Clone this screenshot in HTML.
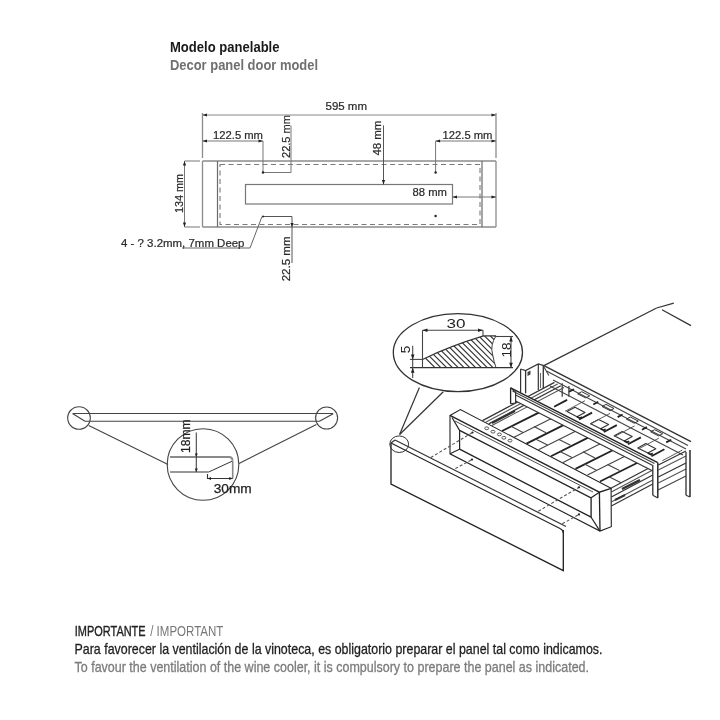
<!DOCTYPE html>
<html><head><meta charset="utf-8">
<style>
html,body{margin:0;padding:0;background:#fff;width:720px;height:720px;overflow:hidden}
svg{display:block;will-change:transform}
text{font-family:"Liberation Sans",sans-serif}
</style></head><body>
<svg width="720" height="720" viewBox="0 0 720 720">
<rect x="0" y="0" width="720" height="720" fill="#fff"/>

<!-- Title -->
<text x="170" y="52.2" font-size="15.5" font-weight="bold" fill="#1a1a1a" textLength="109.5" lengthAdjust="spacingAndGlyphs">Modelo panelable</text>
<text x="170" y="70.3" font-size="15.5" font-weight="bold" fill="#707070" textLength="148" lengthAdjust="spacingAndGlyphs">Decor panel door model</text>

<!-- TOP DRAWING -->
<g id="top" fill="none" stroke="#666" stroke-width="1">
  <!-- outer panel -->
  <path d="M202.5 161 H496 M202.5 227 H496 M202.5 113 V158 M202.5 161 V227 M496 113 V158 M496 161 V227" stroke="#8c8c8c" stroke-width="1.3"/>
  <path d="M217.5 161 V227 M482 161 V227" stroke="#6a6a6a" stroke-width="1.2"/>
  <!-- 134 ext lines -->
  <path d="M184.5 161 H200 M184.5 227 H200 M184.5 161 V227" stroke="#777"/>
  <!-- dashed -->
  <rect x="220" y="164.5" width="260" height="60" stroke="#7a7a7a" stroke-width="1.1" stroke-dasharray="5 3.5"/>
  <!-- slot -->
  <rect x="245.5" y="184.5" width="207" height="19.5" stroke="#777" stroke-width="1.2"/>
  <!-- 595 dim -->
  <path d="M202.5 115 H496" stroke="#888"/>
  <!-- left 122.5 -->
  <path d="M202.5 141 H263 V172.5 H291 V125.5" stroke="#777"/>
  <!-- 48 -->
  <path d="M383.5 125.5 V184.5" stroke="#555"/>
  <!-- right 122.5 -->
  <path d="M435.6 172.5 V141 H496" stroke="#777"/>
  <!-- 88 -->
  <path d="M452.5 197 H496" stroke="#777"/>
  <!-- lower 22.5 -->
  <path d="M263 216.5 H292 V263" stroke="#555"/>
  <!-- leader -->
  <path d="M262 216.5 L250 248 H182" stroke="#666"/>
</g>
<g fill="#222">
  <path d="M202.5 115 l4.5 -1.6 v3.2z M496 115 l-4.5 -1.6 v3.2z"/>
  <path d="M202.5 141 l4.5 -1.6 v3.2z M263 141 l-4.5 -1.6 v3.2z"/>
  <path d="M435.6 141 l4.5 -1.6 v3.2z M496 141 l-4.5 -1.6 v3.2z"/>
  <path d="M452.5 197 l4.5 -1.6 v3.2z M496 197 l-4.5 -1.6 v3.2z"/>
  <path d="M184.5 161 l-1.6 4.5 h3.2z M184.5 227 l-1.6 -4.5 h3.2z"/>
  <path d="M383.5 184.5 l-1.6 -4.5 h3.2z"/>
  <path d="M292 227 l-1.6 -4 h3.2z"/>
  <circle cx="263" cy="172.5" r="1.2"/>
  <circle cx="435.6" cy="172.5" r="1.2"/>
  <circle cx="435.6" cy="216" r="1.2"/>
  <circle cx="263" cy="216.5" r="1"/>
</g>
<g fill="#2a2a2a" stroke="#2a2a2a" stroke-width="0.2" font-size="10.7">
  <text x="325.5" y="109.5" textLength="41.5" lengthAdjust="spacingAndGlyphs">595 mm</text>
  <text x="213" y="138.8" textLength="50" lengthAdjust="spacingAndGlyphs">122.5 mm</text>
  <text x="442.5" y="138.8" textLength="50" lengthAdjust="spacingAndGlyphs">122.5 mm</text>
  <text x="412.5" y="195.6" textLength="34.5" lengthAdjust="spacingAndGlyphs">88 mm</text>
  <text x="121" y="246.5" textLength="123.5" lengthAdjust="spacingAndGlyphs">4 - ? 3.2mm, 7mm Deep</text>
  <text transform="translate(289.7 158) rotate(-90)" textLength="43" lengthAdjust="spacingAndGlyphs">22.5 mm</text>
  <text transform="translate(381 155.6) rotate(-90)" textLength="35" lengthAdjust="spacingAndGlyphs">48 mm</text>
  <text transform="translate(183 213) rotate(-90)" textLength="39" lengthAdjust="spacingAndGlyphs">134 mm</text>
  <text transform="translate(289.7 281.3) rotate(-90)" textLength="44.8" lengthAdjust="spacingAndGlyphs">22.5 mm</text>
</g>

<!-- LEFT PROFILE DRAWING -->
<g fill="none" stroke="#444" stroke-width="1.1">
  <circle cx="79" cy="418" r="11.3"/>
  <circle cx="326.6" cy="418" r="11"/>
  <path d="M72.5 413.5 H333.2 M85 421.2 H319.4 M72.5 413.5 L85 421.2 M333.2 413.7 L319.4 421.3"/>
  <path d="M88.7 425.6 L168 464.5 M316.4 424.4 L239 463.5"/>
  <circle cx="203" cy="464.5" r="35.8"/>
  <path d="M170 457 H229 Q232.5 457 232.5 460.5" stroke="#8a8a8a" stroke-width="2"/>
  <path d="M232.5 461 L208.7 472 H170" stroke="#333" stroke-width="1"/>
  <path d="M232.7 461 V478.5" stroke="#888" stroke-width="1.6"/>
  <path d="M232.7 478.5 H207.5 V474" stroke="#333"/>
  <path d="M196.3 432.5 V472"/>
</g>
<g fill="#222">
  <path d="M196.3 457 l-1.5 -3.5 h3z M196.3 472 l-1.5 -3.5 h3z"/>
  <path d="M207.5 478.5 l3.5 -1.5 v3z M232.7 478.5 l-3.5 -1.5 v3z"/>
</g>
<g fill="#222" stroke="#222" stroke-width="0.25" font-size="13">
  <text transform="translate(190 453) rotate(-90)" textLength="33.6" lengthAdjust="spacingAndGlyphs">18mm</text>
  <text x="213.7" y="492.5" textLength="38" lengthAdjust="spacingAndGlyphs">30mm</text>
</g>

<!-- 3D DRAWING -->
<g id="iso">
<ellipse cx="457.9" cy="352.6" rx="64.6" ry="39" stroke="#333" stroke-width="1.3" fill="none"/>
<defs><clipPath id="hc"><path d="M422.5 359.4 Q450 346 483.5 335.9 L496 335.9 Q490 345 492.5 354 Q494 362 496 367.7 L422.5 367.7Z"/></clipPath></defs>
<path d="M400.4 333 L436.4 369 M406.2 333 L442.2 369 M412.0 333 L448.0 369 M417.8 333 L453.8 369 M423.6 333 L459.6 369 M429.4 333 L465.4 369 M435.2 333 L471.2 369 M441.0 333 L477.0 369 M446.8 333 L482.8 369 M452.6 333 L488.6 369 M458.4 333 L494.4 369 M464.2 333 L500.2 369 M470.0 333 L506.0 369 M475.8 333 L511.8 369 M481.6 333 L517.6 369 M487.4 333 L523.4 369 M493.2 333 L529.2 369 M499.0 333 L535.0 369 M504.8 333 L540.8 369 M510.6 333 L546.6 369 M516.4 333 L552.4 369 M522.2 333 L558.2 369" stroke="#333" stroke-width="1.15" clip-path="url(#hc)"/>
<path d="M422.5 359.4 Q450 346 483.5 335.9 L496 335.9" stroke="#333" stroke-width="1.1" fill="none"/>
<path d="M496 335.9 Q490 345 492.5 354 Q494 362 496 367.7" stroke="#444" stroke-width="1" fill="none"/>
<path d="M410.0 367.7 L513.0 367.7" stroke="#333" stroke-width="1.32" fill="none"/>
<path d="M422.5 330.2 L422.5 367.7" stroke="#444" stroke-width="1.08" fill="none"/>
<path d="M483.0 330.2 L483.0 336.5" stroke="#444" stroke-width="1.08" fill="none"/>
<path d="M422.5 330.2 L483.0 330.2" stroke="#444" stroke-width="1.08" fill="none"/>
<path d="M410.0 359.4 L422.5 359.4" stroke="#444" stroke-width="1.08" fill="none"/>
<path d="M412.7 345.8 L412.7 378.0" stroke="#444" stroke-width="1.08" fill="none"/>
<path d="M494.4 336.5 L513.0 336.5" stroke="#444" stroke-width="1.08" fill="none"/>
<path d="M511.0 336.5 L511.0 367.7" stroke="#444" stroke-width="1.08" fill="none"/>
<g fill="#222"><path d="M422.5 330.2 l5 -1.8 v3.6z M483 330.2 l-5 -1.8 v3.6z M511 336.5 l-1.8 5 h3.6z M511 367.7 l-1.8 -5 h3.6z M412.7 359.4 l-1.8 -5 h3.6z M412.7 367.7 l-1.8 5 h3.6z"/></g>
<text x="446.5" y="328.3" font-size="13" fill="#222" textLength="19" lengthAdjust="spacingAndGlyphs">30</text>
<text transform="translate(510.8 357.5) rotate(-90)" font-size="13" fill="#222" textLength="15" lengthAdjust="spacingAndGlyphs">18</text>
<text transform="translate(410 353.2) rotate(-90)" font-size="13" fill="#222" textLength="7.5" lengthAdjust="spacingAndGlyphs">5</text>
<path d="M419.4 387.5 L399.6 434.5" stroke="#333" stroke-width="1.2" fill="none"/>
<path d="M443.3 391.7 L399.6 434.5" stroke="#333" stroke-width="1.2" fill="none"/>
<path d="M543.9 365.6 L656.6 308.0" stroke="#333" stroke-width="1.2" fill="none"/>
<path d="M656.6 308.0 L673.8 303.2" stroke="#333" stroke-width="1.2" fill="none"/>
<path d="M662.0 309.8 L691.0 325.6" stroke="#333" stroke-width="1.2" fill="none"/>
<path d="M543.9 365.6 L691.0 441.7" stroke="#333" stroke-width="1.32" fill="none"/>
<path d="M546.5 371.0 L688.0 445.5" stroke="#444" stroke-width="1.2" fill="none"/>
<path d="M520.6 369.0 L525.6 370.5 L538.3 363.9 L543.9 365.6" stroke="#333" stroke-width="1.2" fill="none"/>
<path d="M520.6 369.0 L520.6 392.8" stroke="#333" stroke-width="1.2" fill="none"/>
<path d="M525.6 370.5 L525.6 393.3" stroke="#333" stroke-width="1.32" fill="none"/>
<path d="M538.3 363.9 L538.3 390.0" stroke="#333" stroke-width="1.2" fill="none"/>
<path d="M543.3 365.6 L543.3 388.3" stroke="#333" stroke-width="1.32" fill="none"/>
<path d="M540.5 373.0 L540.5 388.0" stroke="#666" stroke-width="1.08" fill="none"/>
<path d="M543.8 366.7 L548.9 375.6" stroke="#444" stroke-width="1.08" fill="none"/>
<path d="M527.5 372 l3 -1.5 v4 l-3 1.5z" fill="#444"/>
<path d="M562.2 383.3 L562.2 396.7" stroke="#333" stroke-width="1.2" fill="none"/>
<path d="M568.9 386.0 L568.9 396.7" stroke="#333" stroke-width="1.2" fill="none"/>
<path d="M391.0 443.0 L391.0 484.0 L563.3 570.6 L563.3 530.0" stroke="#222" stroke-width="1.32" fill="none"/>
<path d="M391 443 L560 528.5 Q563.3 530 563.3 533" stroke="#222" stroke-width="1.1" fill="none"/>
<path d="M395.0 440.0 L566.0 526.5" stroke="#333" stroke-width="1.2" fill="none"/>
<path d="M391.0 443.0 L395.0 440.0" stroke="#333" stroke-width="1.2" fill="none"/>
<ellipse cx="399.2" cy="444.2" rx="9.4" ry="8.3" stroke="#333" stroke-width="1" fill="none"/>
<path d="M482.5 420.6 L554.5 382.4" stroke="#333" stroke-width="1.2" fill="none"/>
<path d="M485.6 422.2 L557.6 384.1" stroke="#555" stroke-width="1.08" fill="none"/>
<path d="M488.8 423.9 L560.8 385.7" stroke="#333" stroke-width="1.2" fill="none"/>
<path d="M491.9 425.5 L564.0 387.4" stroke="#555" stroke-width="1.08" fill="none"/>
<path d="M492.0 423.0 L515.0 411.0" stroke="#333" stroke-width="2.0" fill="none"/>
<path d="M486.0 424.0 L612.0 489.0" stroke="#555" stroke-width="0.96" fill="none"/>
<path d="M502.0 431.0 L539.3 412.4" stroke="#222" stroke-width="1.8" fill="none"/>
<path d="M514.0 437.2 L551.4 418.5" stroke="#444" stroke-width="1.08" fill="none"/>
<path d="M526.5 443.6 L564.0 424.9" stroke="#222" stroke-width="1.8" fill="none"/>
<path d="M538.5 449.8 L576.0 431.0" stroke="#444" stroke-width="1.08" fill="none"/>
<path d="M551.0 456.3 L588.6 437.4" stroke="#222" stroke-width="1.8" fill="none"/>
<path d="M563.0 462.4 L600.7 443.6" stroke="#444" stroke-width="1.08" fill="none"/>
<path d="M575.5 468.9 L613.3 450.0" stroke="#222" stroke-width="1.8" fill="none"/>
<path d="M587.5 475.1 L625.4 456.1" stroke="#444" stroke-width="1.08" fill="none"/>
<path d="M600.0 481.5 L638.0 462.5" stroke="#222" stroke-width="1.8" fill="none"/>
<path d="M511.0 426.3 L523.0 432.4" stroke="#444" stroke-width="1.08" fill="none"/>
<path d="M534.0 426.6 L546.0 432.7" stroke="#444" stroke-width="1.08" fill="none"/>
<path d="M535.5 438.9 L547.5 445.0" stroke="#444" stroke-width="1.08" fill="none"/>
<path d="M558.5 439.2 L570.5 445.3" stroke="#444" stroke-width="1.08" fill="none"/>
<path d="M560.0 451.5 L572.0 457.6" stroke="#444" stroke-width="1.08" fill="none"/>
<path d="M583.0 451.8 L595.0 458.0" stroke="#444" stroke-width="1.08" fill="none"/>
<path d="M584.5 464.1 L596.5 470.2" stroke="#444" stroke-width="1.08" fill="none"/>
<path d="M607.5 464.5 L619.5 470.6" stroke="#444" stroke-width="1.08" fill="none"/>
<path d="M609.0 476.7 L621.0 482.8" stroke="#444" stroke-width="1.08" fill="none"/>
<path d="M567.0 411.6 L577.0 416.7 L585.0 412.4 L575.0 407.3Z" stroke="#333" stroke-width="1.1" fill="none" stroke-linejoin="round"/>
<path d="M577.0 416.7 L580.0 418.2 L582.0 417.1" stroke="#222" stroke-width="1.8" fill="none"/>
<path d="M590.6 423.7 L600.6 428.8 L608.6 424.5 L598.6 419.4Z" stroke="#333" stroke-width="1.1" fill="none" stroke-linejoin="round"/>
<path d="M600.6 428.8 L603.6 430.3 L605.6 429.2" stroke="#222" stroke-width="1.8" fill="none"/>
<path d="M614.2 435.8 L624.2 440.9 L632.2 436.6 L622.2 431.5Z" stroke="#333" stroke-width="1.1" fill="none" stroke-linejoin="round"/>
<path d="M624.2 440.9 L627.2 442.4 L629.2 441.3" stroke="#222" stroke-width="1.8" fill="none"/>
<path d="M637.8 447.9 L647.8 453.0 L655.8 448.7 L645.8 443.6Z" stroke="#333" stroke-width="1.1" fill="none" stroke-linejoin="round"/>
<path d="M647.8 453.0 L650.8 454.5 L652.8 453.4" stroke="#222" stroke-width="1.8" fill="none"/>
<path d="M554.1 406.8 L567.1 399.9" stroke="#222" stroke-width="1.8" fill="none"/>
<path d="M565.0 411.3 L585.0 400.7" stroke="#555" stroke-width="0.96" fill="none"/>
<path d="M579.1 419.5 L592.1 412.6" stroke="#222" stroke-width="1.8" fill="none"/>
<path d="M590.0 424.0 L610.0 413.4" stroke="#555" stroke-width="0.96" fill="none"/>
<path d="M603.8 432.0 L616.8 425.1" stroke="#222" stroke-width="1.8" fill="none"/>
<path d="M614.6 436.5 L634.6 425.9" stroke="#555" stroke-width="0.96" fill="none"/>
<path d="M627.9 444.3 L640.9 437.4" stroke="#222" stroke-width="1.8" fill="none"/>
<path d="M638.8 448.8 L658.8 438.2" stroke="#555" stroke-width="0.96" fill="none"/>
<path d="M651.4 456.2 L664.4 449.3" stroke="#222" stroke-width="1.8" fill="none"/>
<path d="M662.3 460.7 L682.3 450.1" stroke="#555" stroke-width="0.96" fill="none"/>
<path d="M553.0 380.0 L686.0 449.0" stroke="#444" stroke-width="1.08" fill="none"/>
<path d="M550.0 386.0 L683.0 455.0" stroke="#444" stroke-width="1.08" fill="none"/>
<path d="M577.7 393.9 L585.7 397.9 L589.7 395.8 L581.7 391.7Z" stroke="#333" stroke-width="1" fill="none" stroke-linejoin="round"/>
<path d="M602.0 406.5 L610.0 410.6 L614.0 408.5 L606.0 404.4Z" stroke="#333" stroke-width="1" fill="none" stroke-linejoin="round"/>
<path d="M626.3 419.1 L634.3 423.2 L638.3 421.1 L630.3 417.0Z" stroke="#333" stroke-width="1" fill="none" stroke-linejoin="round"/>
<path d="M650.6 431.8 L658.6 435.9 L662.6 433.7 L654.6 429.7Z" stroke="#333" stroke-width="1" fill="none" stroke-linejoin="round"/>
<path d="M569.0 391.8 L574.0 389.2" stroke="#222" stroke-width="1.8" fill="none"/>
<path d="M593.3 404.5 L598.3 401.8" stroke="#222" stroke-width="1.8" fill="none"/>
<path d="M617.6 417.1 L622.6 414.5" stroke="#222" stroke-width="1.8" fill="none"/>
<path d="M641.9 429.7 L646.9 427.1" stroke="#222" stroke-width="1.8" fill="none"/>
<path d="M666.2 442.4 L671.2 439.7" stroke="#222" stroke-width="1.8" fill="none"/>
<path d="M611.3 488.0 L652.8 466.0" stroke="#333" stroke-width="1.2" fill="none"/>
<path d="M611.3 492.0 L652.8 470.0" stroke="#555" stroke-width="1.08" fill="none"/>
<path d="M611.3 497.0 L652.8 475.0" stroke="#333" stroke-width="1.2" fill="none"/>
<path d="M611.3 502.0 L652.8 480.0" stroke="#555" stroke-width="1.08" fill="none"/>
<path d="M611.3 506.0 L652.8 484.0" stroke="#333" stroke-width="1.2" fill="none"/>
<path d="M622.0 489.0 L640.0 480.0" stroke="#333" stroke-width="2.4" fill="none"/>
<path d="M615.0 500.0 L625.0 495.0" stroke="#333" stroke-width="2.0" fill="none"/>
<path d="M658.3 465.0 L686.0 451.0" stroke="#333" stroke-width="1.2" fill="none"/>
<path d="M658.3 470.0 L686.0 456.0" stroke="#555" stroke-width="1.08" fill="none"/>
<path d="M658.3 477.0 L686.0 463.0" stroke="#333" stroke-width="1.2" fill="none"/>
<path d="M658.3 483.0 L686.0 469.0" stroke="#555" stroke-width="1.08" fill="none"/>
<path d="M658.0 490.0 L686.0 476.0" stroke="#444" stroke-width="1.08" fill="none"/>
<path d="M686.0 452.0 L686.0 495.3" stroke="#333" stroke-width="1.32" fill="none"/>
<path d="M690.0 450.0 L690.0 497.0" stroke="#222" stroke-width="1.44" fill="none"/>
<path d="M686.0 495.3 L690.0 497.0" stroke="#333" stroke-width="1.2" fill="none"/>
<path d="M510.6 387.8 L657.8 462.6 L657.8 498 L652.8 495.3 L652.8 471 L515.6 401 L515.6 403 L510.6 403.9Z" fill="#fff" stroke="none"/>
<path d="M510.6 387.8 L657.8 462.6" stroke="#222" stroke-width="1.32" fill="none"/>
<path d="M512.5 391.0 L654.5 463.5" stroke="#444" stroke-width="1.08" fill="none"/>
<path d="M515.6 395.0 L652.8 465.5" stroke="#333" stroke-width="1.2" fill="none"/>
<path d="M515.6 401.0 L652.8 471.0" stroke="#333" stroke-width="1.2" fill="none"/>
<path d="M510.6 387.8 L510.6 403.9" stroke="#222" stroke-width="1.32" fill="none"/>
<path d="M515.6 392.0 L515.6 403.0" stroke="#333" stroke-width="1.2" fill="none"/>
<path d="M510.6 403.9 L515.6 403.0" stroke="#333" stroke-width="1.2" fill="none"/>
<path d="M510.6 387.8 L515.6 392.0" stroke="#333" stroke-width="1.2" fill="none"/>
<path d="M652.8 465 L657.8 462.6 L657.8 498 L652.8 495.3Z" fill="#fff" stroke="none"/>
<path d="M652.8 465.0 L652.8 495.3" stroke="#333" stroke-width="1.32" fill="none"/>
<path d="M657.8 462.6 L657.8 498.0" stroke="#222" stroke-width="1.44" fill="none"/>
<path d="M652.8 495.3 L657.8 498.0" stroke="#333" stroke-width="1.2" fill="none"/>
<path d="M450.0 415.4 L460.4 409.6 L611.1 488.3 L611.3 526.7 L600.0 531.1 L450.0 453.8Z" stroke="#222" stroke-width="1.1" fill="#fff"/>
<path d="M450.0 415.4 L599.4 492.2 L611.1 488.3" stroke="#222" stroke-width="1.32" fill="none"/>
<path d="M599.4 492.2 L600.0 531.1" stroke="#222" stroke-width="1.32" fill="none"/>
<path d="M452.0 417.5 L459.6 430.4 L459.6 449.2 L450.0 453.8" stroke="#222" stroke-width="1.2" fill="none"/>
<path d="M459.6 430.4 L591.1 497.8 L591.1 517.2 L459.6 449.2" stroke="#222" stroke-width="1.32" fill="none"/>
<path d="M599.4 492.2 L591.1 497.8" stroke="#222" stroke-width="1.2" fill="none"/>
<path d="M600.0 531.1 L591.1 517.2" stroke="#222" stroke-width="1.2" fill="none"/>
<path d="M455.0 421.0 L593.0 492.0" stroke="#444" stroke-width="0.96" fill="none"/>
<ellipse cx="486.7" cy="428.3" rx="2" ry="1.4" stroke="#333" stroke-width="0.8" fill="none"/>
<ellipse cx="493" cy="431.7" rx="2" ry="1.4" stroke="#333" stroke-width="0.8" fill="none"/>
<ellipse cx="499.4" cy="434.4" rx="2" ry="1.4" stroke="#333" stroke-width="0.8" fill="none"/>
<ellipse cx="503.9" cy="437.8" rx="2" ry="1.4" stroke="#333" stroke-width="0.8" fill="none"/>
<ellipse cx="510" cy="440.6" rx="2" ry="1.4" stroke="#333" stroke-width="0.8" fill="none"/>
<path d="M430.8 457.5 L472.5 432.5" stroke="#555" stroke-width="1.08" fill="none" stroke-dasharray="3 2"/>
<path d="M455.3 468.6 L472.0 459.6" stroke="#555" stroke-width="1.08" fill="none" stroke-dasharray="3 2"/>
<path d="M538.3 511.2 L579.0 487.3" stroke="#555" stroke-width="1.08" fill="none" stroke-dasharray="3 2"/>
<path d="M562.3 523.8 L579.0 514.4" stroke="#555" stroke-width="1.08" fill="none" stroke-dasharray="3 2"/>
<circle cx="472.5" cy="432.5" r="1.1" fill="#222"/>
<circle cx="472" cy="459.6" r="1.1" fill="#222"/>
<circle cx="579" cy="487.3" r="1.1" fill="#222"/>
<circle cx="579" cy="514.4" r="1.1" fill="#222"/>
</g>

<!-- BOTTOM TEXT -->
<g font-size="14.3">
  <text x="74.8" y="635.5" fill="#222" stroke="#222" stroke-width="0.35" textLength="70.8" lengthAdjust="spacingAndGlyphs">IMPORTANTE</text>
  <text x="150.2" y="635.5" fill="#777" textLength="73.2" lengthAdjust="spacingAndGlyphs">/ IMPORTANT</text>
  <text x="74.5" y="653.8" fill="#1e1e1e" stroke="#1e1e1e" stroke-width="0.28" textLength="528" lengthAdjust="spacingAndGlyphs">Para favorecer la ventilación de la vinoteca, es obligatorio preparar el panel tal como indicamos.</text>
  <text x="74.5" y="672" fill="#7c7c7c" stroke="#7c7c7c" stroke-width="0.3" textLength="514.5" lengthAdjust="spacingAndGlyphs">To favour the ventilation of the wine cooler, it is compulsory to prepare the panel as indicated.</text>
</g>
</svg>
</body></html>
